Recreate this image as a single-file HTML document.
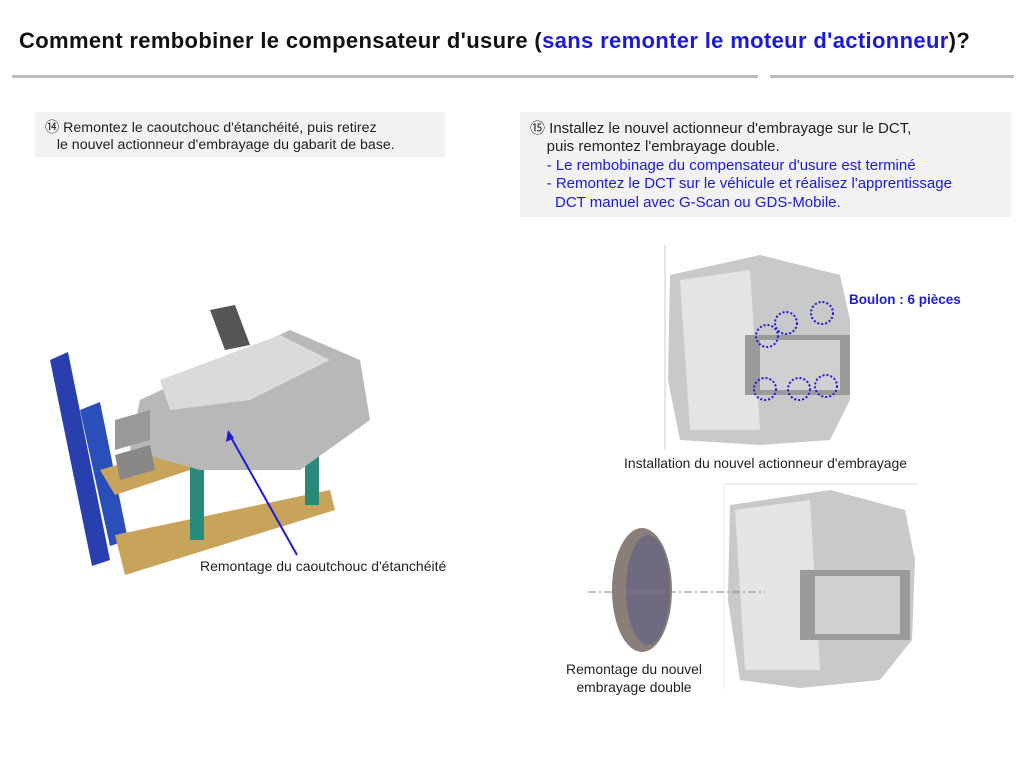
<!DOCTYPE html>
<html><head><meta charset="utf-8"><style>
body{margin:0;width:1024px;height:767px;background:#fff;position:relative;overflow:hidden;font-family:"Liberation Sans",sans-serif}
.a{position:absolute;white-space:nowrap}
</style></head><body>
<div class="a" style="left:19px;top:28px;font-size:22px;font-weight:bold;color:#111;letter-spacing:0.35px">Comment rembobiner le compensateur d'usure (<span style="color:#1a1adb">sans remonter le moteur d'actionneur</span>)?</div>
<div class="a" style="left:12px;top:75px;width:746px;height:3px;background:#bdbdbd"></div>
<div class="a" style="left:770px;top:75px;width:244px;height:3px;background:#bdbdbd"></div>

<div class="a" style="left:35px;top:112px;width:410px;height:45px;background:#f2f2f2"></div>
<div class="a" style="left:45px;top:120px;font-size:14.2px;line-height:17px;color:#222">⑭ Remontez le caoutchouc d'étanchéité, puis retirez<br>&nbsp;&nbsp;&nbsp;le nouvel actionneur d'embrayage du gabarit de base.</div>

<div class="a" style="left:520px;top:112px;width:491px;height:105px;background:#f2f2f2"></div>
<div class="a" style="left:530px;top:120px;font-size:15px;line-height:18.4px;color:#222">⑮ Installez le nouvel actionneur d'embrayage sur le DCT,<br>&nbsp;&nbsp;&nbsp;&nbsp;puis remontez l'embrayage double.<br><span style="color:#1a1adb">&nbsp;&nbsp;&nbsp;&nbsp;- Le rembobinage du compensateur d'usure est terminé<br>&nbsp;&nbsp;&nbsp;&nbsp;- Remontez le DCT sur le véhicule et réalisez l'apprentissage<br>&nbsp;&nbsp;&nbsp;&nbsp;&nbsp;&nbsp;DCT manuel avec G-Scan ou GDS-Mobile.</span></div>

<svg class="a" style="left:0;top:0" width="1024" height="767">
<polygon points="50,360 68,352 110,560 92,566" fill="#2a3fae"/>
<polygon points="80,410 100,402 128,540 110,546" fill="#2a4fbb"/>
<polygon points="100,470 330,400 340,420 115,495" fill="#c8a35a"/>
<polygon points="115,535 330,490 335,510 125,575" fill="#c8a35a"/>
<rect x="190" y="450" width="14" height="90" fill="#2a8a7a"/>
<rect x="305" y="420" width="14" height="85" fill="#2a8a7a"/>
<polygon points="140,400 290,330 360,360 370,420 300,470 200,470 130,450" fill="#b8b8b8"/>
<polygon points="160,380 280,335 330,360 250,400 170,410" fill="#dadada"/>
<polygon points="210,310 235,305 250,345 225,350" fill="#555"/>
<polygon points="115,420 150,410 150,440 115,450" fill="#999"/>
<polygon points="115,455 150,445 155,470 120,480" fill="#888"/>
<line x1="228" y1="432" x2="297" y2="555" stroke="#1a1adb" stroke-width="2"/>
<polygon points="228,430 226,442 234,438" fill="#1a1adb"/>
<line x1="665" y1="245" x2="665" y2="450" stroke="#ccc"/>
<polygon points="670,275 760,255 840,275 850,320 850,400 830,440 760,445 680,440 668,380" fill="#c9c9c9"/>
<polygon points="680,280 750,270 760,430 690,430" fill="#e4e4e4"/>
<rect x="745" y="335" width="105" height="60" fill="#9a9a9a"/>
<rect x="760" y="340" width="80" height="50" fill="#d0d0d0"/>
<g fill="none" stroke="#1a1adb" stroke-width="2" stroke-dasharray="2,2">
<circle cx="767" cy="336" r="11"/><circle cx="786" cy="323" r="11"/><circle cx="822" cy="313" r="11"/>
<circle cx="765" cy="389" r="11"/><circle cx="799" cy="389" r="11"/><circle cx="826" cy="386" r="11"/></g>
<line x1="725" y1="484" x2="918" y2="484" stroke="#ddd"/>
<line x1="724" y1="484" x2="724" y2="690" stroke="#eee"/>
<polygon points="730,505 830,490 905,510 915,560 912,640 880,680 800,688 740,680 728,600" fill="#c9c9c9"/>
<polygon points="735,510 810,500 820,670 745,670" fill="#e4e4e4"/>
<rect x="800" y="570" width="110" height="70" fill="#9a9a9a"/>
<rect x="815" y="576" width="85" height="58" fill="#d0d0d0"/>
<ellipse cx="642" cy="590" rx="30" ry="62" fill="#8a7f78"/>
<ellipse cx="648" cy="590" rx="22" ry="55" fill="#6f6a80"/>
<line x1="588" y1="592" x2="765" y2="592" stroke="#888" stroke-dasharray="8,3,2,3"/>
</svg>
<div class="a" style="left:200px;top:558px;font-size:14px;color:#222">Remontage du caoutchouc d'étanchéité</div>
<div class="a" style="left:849px;top:292px;font-size:13.5px;font-weight:bold;color:#1a1adb">Boulon : 6 pièces</div>
<div class="a" style="left:624px;top:455px;font-size:13.9px;color:#222">Installation du nouvel actionneur d'embrayage</div>
<div class="a" style="left:554px;top:660px;width:160px;text-align:center;font-size:13.9px;line-height:18px;color:#222">Remontage du nouvel<br>embrayage double</div>
</body></html>
